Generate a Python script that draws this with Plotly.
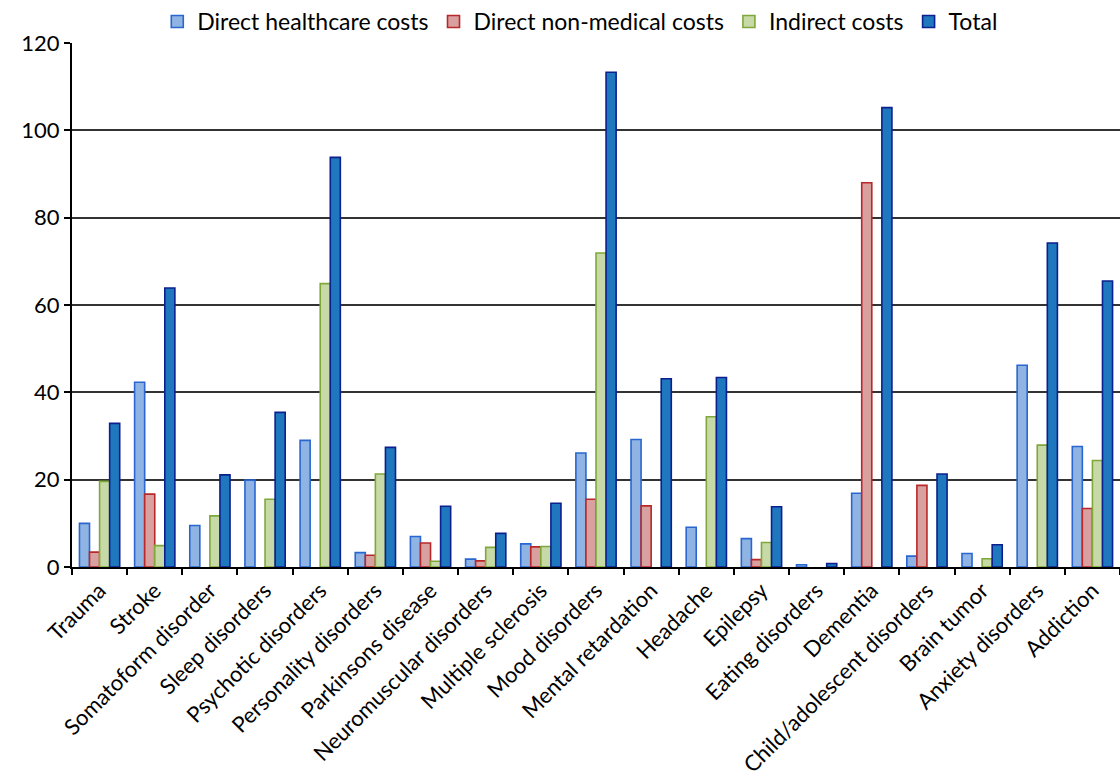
import plotly.graph_objects as go

categories = [
    "Trauma", "Stroke", "Somatoform disorder", "Sleep disorders",
    "Psychotic disorders", "Personality disorders", "Parkinsons disease",
    "Neuromuscular disorders", "Multiple sclerosis", "Mood disorders",
    "Mental retardation", "Headache", "Epilepsy", "Eating disorders",
    "Dementia", "Child/adolescent disorders", "Brain tumor",
    "Anxiety disorders", "Addiction",
]

direct_healthcare = [10.0, 42.3, 9.5, 19.9, 29.0, 3.3, 7.0, 1.8, 5.3, 26.1,
                     29.2, 9.1, 6.5, 0.5, 16.9, 2.5, 3.1, 46.2, 27.6]
direct_non_medical = [3.4, 16.7, None, None, None, 2.7, 5.5, 1.4, 4.6, 15.5,
                      14.0, None, 1.7, None, 88.0, 18.7, None, None, 13.4]
indirect = [19.6, 4.9, 11.7, 15.5, 64.9, 21.3, 1.3, 4.5, 4.7, 71.9,
            None, 34.4, 5.6, None, None, None, 1.9, 27.9, 24.4]
total = [32.9, 63.9, 21.1, 35.4, 93.8, 27.4, 13.9, 7.7, 14.6, 113.3,
         43.1, 43.4, 13.8, 0.8, 105.2, 21.3, 5.1, 74.2, 65.5]

series = [
    ("Direct healthcare costs", direct_healthcare, "#8fb4e3", "#2a66d0"),
    ("Direct non-medical costs", direct_non_medical, "#d9a0a0", "#b8282a"),
    ("Indirect costs", indirect, "#c8d9a8", "#7fa83a"),
    ("Total", total, "#1f78bd", "#0c1f8f"),
]

fig = go.Figure()
for name, values, fill, edge in series:
    fig.add_trace(go.Bar(
        name=name, x=categories, y=values,
        marker=dict(color=fill, line=dict(color=edge, width=1.6)),
    ))

font_family = "Lato, 'Open Sans', sans-serif"

fig.update_layout(
    width=1120, height=780,
    margin=dict(l=72, r=0, t=43, b=213),
    paper_bgcolor="white", plot_bgcolor="white",
    barmode="group", bargap=0.27, bargroupgap=0.0,
    font=dict(family=font_family, size=22, color="black"),
    showlegend=True,
    legend=dict(orientation="h", x=0.485, xanchor="center", y=1.0, yanchor="bottom",
                font=dict(size=23), itemwidth=30, traceorder="normal",
                bgcolor="rgba(0,0,0,0)"),
    xaxis=dict(
        type="category", tickangle=-45, showline=True, linecolor="black",
        linewidth=2, ticks="outside", tickson="boundaries", ticklen=6,
        tickwidth=2, tickcolor="black", showgrid=False, automargin=False,
        tickfont=dict(size=22),
    ),
    yaxis=dict(
        range=[0, 120], dtick=20, showline=True, linecolor="black",
        linewidth=2, ticks="outside", ticklen=6, tickwidth=1.5,
        tickcolor="black", showgrid=True, gridcolor="#333333", gridwidth=1.5,
        zeroline=False, automargin=False, tickfont=dict(size=22),
    ),
)

fig.write_html("out.html")
